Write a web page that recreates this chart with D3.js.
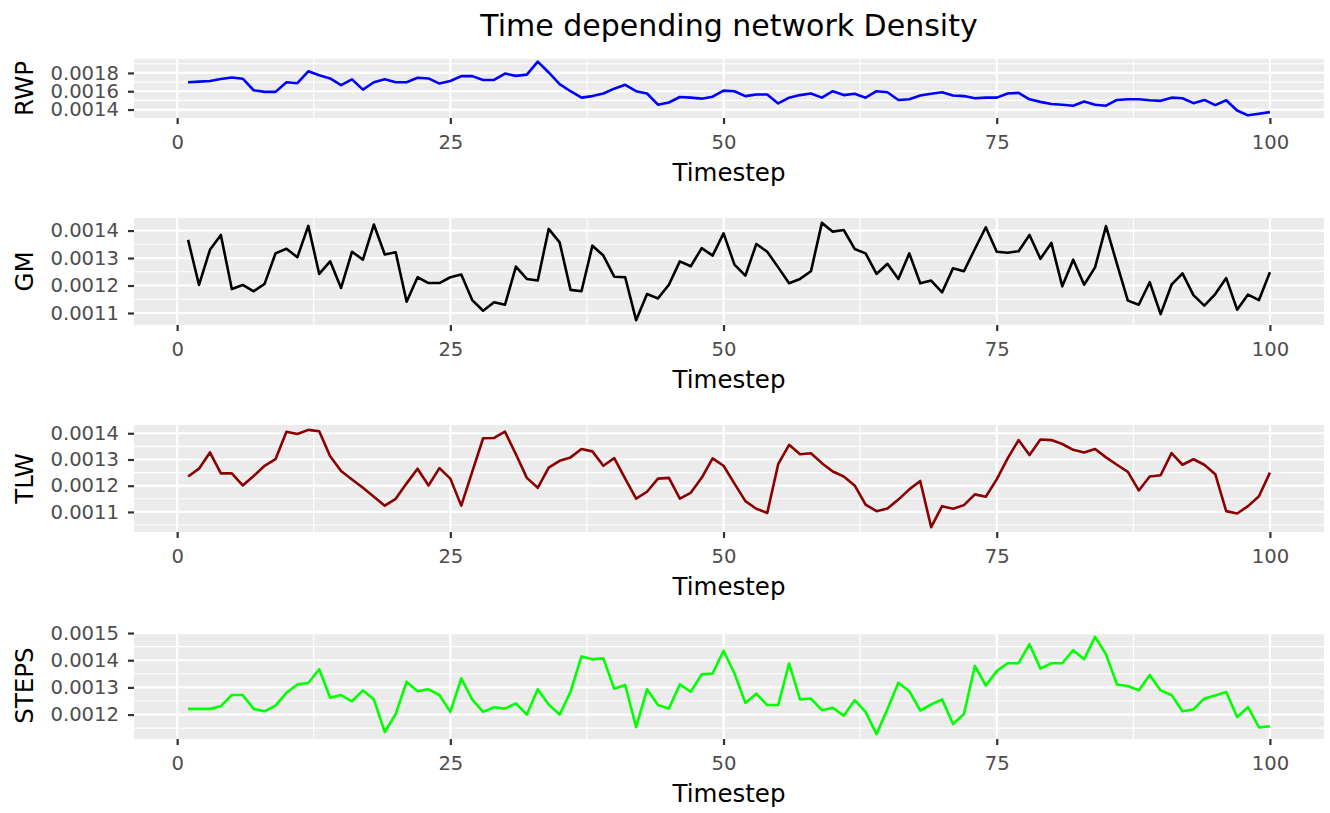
<!DOCTYPE html>
<html>
<head>
<meta charset="utf-8">
<script src="https://cdn.jsdelivr.net/npm/d3@7"></script>
<style>
  body { margin: 0; background: #fff; }
  svg { display: block; font-family: "DejaVu Sans", sans-serif; }
</style>
</head>
<body>
<div id="chart"></div>
<script>

var timesteps = d3.range(1, 101);

var rwp = [0.001698,0.001705,0.001712,0.001733,0.001751,0.001737,0.001611,0.001593,0.001593,0.001698,
  0.001688,0.001818,0.001775,0.001740,0.001667,0.001730,0.001618,0.001698,0.001730,0.001698,
  0.001698,0.001747,0.001740,0.001684,0.001712,0.001765,0.001765,0.001723,0.001723,0.001793,
  0.001768,0.001782,0.001923,0.001805,0.001677,0.001600,0.001530,0.001547,0.001575,0.001628,
  0.001670,0.001600,0.001575,0.001453,0.001477,0.001537,0.001530,0.001519,0.001540,0.001607,
  0.001600,0.001547,0.001565,0.001565,0.001467,0.001530,0.001558,0.001575,0.001530,0.001600,
  0.001558,0.001572,0.001530,0.001600,0.001589,0.001505,0.001512,0.001554,0.001572,0.001589,
  0.001554,0.001547,0.001523,0.001530,0.001530,0.001575,0.001582,0.001512,0.001484,0.001460,
  0.001453,0.001442,0.001488,0.001453,0.001442,0.001505,0.001512,0.001512,0.001502,0.001495,
  0.001530,0.001523,0.001470,0.001505,0.001449,0.001502,0.001390,0.001337,0.001354,0.001372];

var gm = [0.001366,0.001202,0.001330,0.001384,0.001187,0.001202,0.001179,0.001206,0.001317,0.001334,
  0.001303,0.001417,0.001242,0.001288,0.001191,0.001323,0.001294,0.001422,0.001313,0.001321,
  0.001141,0.001230,0.001209,0.001209,0.001230,0.001240,0.001147,0.001108,0.001139,0.001130,
  0.001269,0.001224,0.001218,0.001406,0.001357,0.001184,0.001179,0.001345,0.001309,0.001232,
  0.001230,0.001074,0.001169,0.001153,0.001203,0.001288,0.001270,0.001336,0.001309,0.001390,
  0.001276,0.001236,0.001351,0.001323,0.001266,0.001208,0.001224,0.001252,0.001428,0.001396,
  0.001402,0.001333,0.001317,0.001242,0.001279,0.001224,0.001317,0.001208,0.001218,0.001175,
  0.001263,0.001252,0.001333,0.001412,0.001323,0.001319,0.001325,0.001384,0.001297,0.001355,
  0.001197,0.001294,0.001203,0.001266,0.001416,0.001279,0.001145,0.001130,0.001212,0.001096,
  0.001203,0.001244,0.001165,0.001127,0.001169,0.001227,0.001112,0.001167,0.001147,0.001248];

var tlw = [0.001235,0.001265,0.001327,0.001247,0.001247,0.001201,0.001237,0.001276,0.001301,0.001406,
  0.001397,0.001413,0.001408,0.001312,0.001256,0.001224,0.001192,0.001158,0.001124,0.001150,
  0.001209,0.001265,0.001201,0.001267,0.001227,0.001124,0.001253,0.001381,0.001382,0.001406,
  0.001320,0.001230,0.001192,0.001269,0.001295,0.001308,0.001340,0.001331,0.001276,0.001305,
  0.001227,0.001151,0.001177,0.001227,0.001230,0.001151,0.001173,0.001230,0.001304,0.001276,
  0.001208,0.001141,0.001112,0.001096,0.001282,0.001356,0.001320,0.001324,0.001286,0.001254,
  0.001235,0.001201,0.001128,0.001103,0.001113,0.001147,0.001186,0.001218,0.001042,0.001122,
  0.001112,0.001126,0.001167,0.001158,0.001224,0.001304,0.001374,0.001317,0.001376,0.001374,
  0.001359,0.001337,0.001327,0.001340,0.001308,0.001280,0.001253,0.001182,0.001235,0.001240,
  0.001324,0.001280,0.001301,0.001280,0.001244,0.001103,0.001094,0.001122,0.001160,0.001250];

var steps = [0.001221,0.001221,0.001221,0.001231,0.001272,0.001272,0.001221,0.001212,0.001233,0.001280,
  0.001311,0.001316,0.001367,0.001262,0.001272,0.001249,0.001289,0.001256,0.001136,0.001202,
  0.001321,0.001286,0.001293,0.001272,0.001210,0.001333,0.001256,0.001210,0.001227,0.001222,
  0.001241,0.001200,0.001293,0.001237,0.001200,0.001284,0.001414,0.001404,0.001407,0.001295,
  0.001309,0.001154,0.001293,0.001235,0.001222,0.001311,0.001284,0.001348,0.001351,0.001435,
  0.001351,0.001243,0.001277,0.001235,0.001235,0.001388,0.001256,0.001259,0.001216,0.001225,
  0.001196,0.001253,0.001210,0.001128,0.001220,0.001317,0.001286,0.001215,0.001237,0.001256,
  0.001165,0.001202,0.001379,0.001307,0.001360,0.001389,0.001389,0.001459,0.001369,0.001389,
  0.001389,0.001437,0.001404,0.001486,0.001422,0.001311,0.001305,0.001289,0.001346,0.001289,
  0.001272,0.001212,0.001219,0.001259,0.001270,0.001283,0.001191,0.001227,0.001153,0.001157];

var seriesNames = ["RWP", "GM", "TLW", "STEPS"];
var seriesColors = ["#0000FF", "#000000", "#8B0000", "#00FF00"];
var seriesValues = [rwp, gm, tlw, steps];

var xTicks = [0, 25, 50, 75, 100];
var rwpTicks = [0.0014, 0.0016, 0.0018];
var gmTicks = [0.0011, 0.0012, 0.0013, 0.0014];
var tlwTicks = [0.0011, 0.0012, 0.0013, 0.0014];
var stepsTicks = [0.0012, 0.0013, 0.0014, 0.0015];
var yTicks = [rwpTicks, gmTicks, tlwTicks, stepsTicks];

var titleText = "Time depending network Density";
var xTitle = "Timestep";

// layout
var width = 1330,
    height = 813,
    left = 134,
    right = 1324,
    panelTops = [59, 218, 425, 632],
    panelBottoms = [118, 325, 532, 739],
    gridWidth = 2.2,
    lineWidth = 2.6,
    tickLen = 6;

var svg = d3.select('#chart').append('svg')
  .attr('width', width)
  .attr('height', height);

// ggplot style 5% expansion of the data range
function expand(ext){
  var pad = (ext[1] - ext[0]) * 0.05;
  return [ext[0] - pad, ext[1] + pad];
}

// minor breaks sit halfway between the major ones
function minors(ticks, domain){
  var step = ticks[1] - ticks[0];
  var out = [ticks[0] - step/2];
  ticks.forEach(function(t){ out.push(t + step/2); });
  return out.filter(function(v){ return v > domain[0] && v < domain[1]; });
}

var x = d3.scaleLinear()
  .domain(expand(d3.extent(timesteps)))
  .range([left, right]);

svg.append('text')
  .attr('x', (left + right) / 2)
  .attr('y', 36)
  .attr('text-anchor', 'middle')
  .attr('font-size', 30)
  .attr('fill', '#000')
  .text(titleText);

seriesNames.forEach(function(name, i){

  var top = panelTops[i],
      bottom = panelBottoms[i],
      values = seriesValues[i];

  var y = d3.scaleLinear()
    .domain(expand(d3.extent(values)))
    .range([bottom, top]);

  var g = svg.append('g').attr('class', 'panel');

  g.append('rect')
    .attr('x', left)
    .attr('y', top)
    .attr('width', right - left)
    .attr('height', bottom - top)
    .attr('fill', '#EBEBEB');

  // minor grid
  g.selectAll('line.ymin')
    .data(minors(yTicks[i], y.domain()))
    .enter().append('line')
    .attr('x1', left).attr('x2', right)
    .attr('y1', function(d){ return y(d); })
    .attr('y2', function(d){ return y(d); })
    .attr('stroke', '#fff')
    .attr('stroke-width', gridWidth / 2);

  g.selectAll('line.xmin')
    .data(minors(xTicks, x.domain()))
    .enter().append('line')
    .attr('y1', top).attr('y2', bottom)
    .attr('x1', function(d){ return x(d); })
    .attr('x2', function(d){ return x(d); })
    .attr('stroke', '#fff')
    .attr('stroke-width', gridWidth / 2);

  // major grid
  g.selectAll('line.ymaj')
    .data(yTicks[i])
    .enter().append('line')
    .attr('x1', left).attr('x2', right)
    .attr('y1', function(d){ return y(d); })
    .attr('y2', function(d){ return y(d); })
    .attr('stroke', '#fff')
    .attr('stroke-width', gridWidth);

  g.selectAll('line.xmaj')
    .data(xTicks)
    .enter().append('line')
    .attr('y1', top).attr('y2', bottom)
    .attr('x1', function(d){ return x(d); })
    .attr('x2', function(d){ return x(d); })
    .attr('stroke', '#fff')
    .attr('stroke-width', gridWidth);

  var line = d3.line()
    .x(function(d, j){ return x(timesteps[j]); })
    .y(function(d){ return y(d); });

  g.append('path')
    .attr('d', line(values))
    .attr('fill', 'none')
    .attr('stroke', seriesColors[i])
    .attr('stroke-width', lineWidth)
    .attr('stroke-linejoin', 'round');

  var xAxis = d3.axisBottom(x)
    .tickValues(xTicks)
    .tickSize(tickLen)
    .tickPadding(11)
    .tickFormat(d3.format('d'));

  var yAxis = d3.axisLeft(y)
    .tickValues(yTicks[i])
    .tickSize(tickLen)
    .tickPadding(9)
    .tickFormat(d3.format('.4f'));

  var gx = g.append('g')
    .attr('transform', 'translate(0,' + bottom + ')')
    .call(xAxis);

  var gy = g.append('g')
    .attr('transform', 'translate(' + left + ',0)')
    .call(yAxis);

  [gx, gy].forEach(function(ax){
    ax.select('.domain').remove();
    ax.selectAll('line').attr('stroke', '#333').attr('stroke-width', gridWidth);
    ax.selectAll('text')
      .attr('fill', '#4D4D4D')
      .attr('font-size', 19.6)
      .attr('font-family', '"DejaVu Sans", sans-serif');
  });

  g.append('text')
    .attr('x', (left + right) / 2)
    .attr('y', bottom + 63)
    .attr('text-anchor', 'middle')
    .attr('font-size', 24.5)
    .attr('fill', '#000')
    .text(xTitle);

  g.append('text')
    .attr('transform', 'translate(33,' + ((top + bottom) / 2) + ') rotate(-90)')
    .attr('text-anchor', 'middle')
    .attr('font-size', 24.5)
    .attr('fill', '#000')
    .text(name);

});

</script>
</body>
</html>
